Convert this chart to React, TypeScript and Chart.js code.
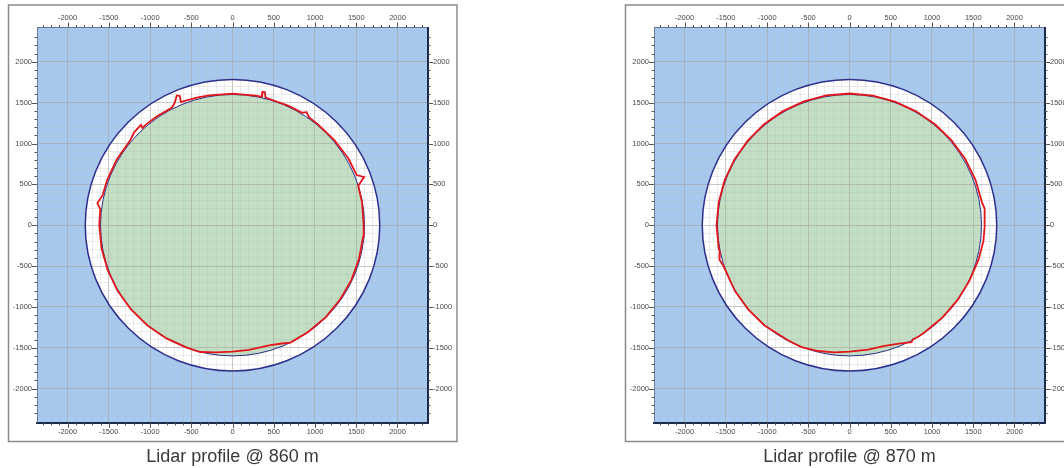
import React, { useEffect, useRef } from "react";
import { Chart, registerables } from "chart.js";

Chart.register(...registerables);

// ---- axis ranges / ticks ----
const xMin = -2370;
const xMax = 2370;
const yMin = -2420;
const yMax = 2420;
const majorStep = 500;
const minorStep = 100;
const firstTick = -2300;
const lastTick = 2300;

// ---- circles (data units) ----
const ringOuterRadius = 1785;
const innerCircleRadius = 1600;

// ---- titles ----
const panelTitles = ["Lidar profile @ 860 m", "Lidar profile @ 870 m"];

// ---- lidar profile @ 860 m (x, y in data units, closed loop) ----
const profile860X = [
  1590, 1571, 1524, 1594, 1505, 1407, 1237, 1036, 926, 899, 844, 681, 417, 400,
  392, 366, 358, 280, 0, -280, -419, -556, -625, -640, -675, -700, -733, -928,
  -1040, -1092, -1110, -1190, -1240, -1401, -1520, -1575, -1638, -1603, -1615,
  -1588, -1513, -1393, -1230, -1030, -800, -546, -390, -200, 0, 200, 460, 600,
  703, 916, 1128, 1302, 1441, 1534, 1584, 1590,
];
const profile860Y = [
  0, 277, 481, 590, 614, 813, 1038, 1235, 1323, 1384, 1377, 1461, 1557, 1565,
  1628, 1632, 1572, 1586, 1610, 1590, 1565, 1527, 1508, 1582, 1588, 1500, 1441,
  1325, 1240, 1190, 1228, 1140, 1040, 809, 553, 364, 271, 197, 0, -280, -551,
  -804, -1032, -1228, -1386, -1501, -1552, -1556, -1548, -1527, -1468, -1448,
  -1437, -1308, -1128, -912, -672, -411, -139, 0,
];

// ---- lidar profile @ 870 m (x, y in data units, closed loop) ----
const profile870X = [
  1640, 1638, 1605, 1527, 1403, 1237, 1036, 805, 551, 280, 0, -280, -551, -806,
  -1036, -1233, -1394, -1513, -1586, -1612, -1586, -1570, -1576, -1529, -1390,
  -1228, -1030, -742, -582, -380, -182, 0, 226, 427, 600, 752, 770, 830, 915,
  1128, 1309, 1455, 1565, 1623, 1640,
];
const profile870Y = [
  0, 201, 283, 556, 810, 1038, 1235, 1394, 1513, 1586, 1612, 1588, 1515, 1396,
  1235, 1035, 805, 551, 280, 0, -280, -334, -422, -497, -803, -1030, -1227,
  -1411, -1493, -1540, -1556, -1548, -1523, -1478, -1450, -1432, -1395, -1368,
  -1307, -1128, -917, -678, -419, -199, 0,
];

// ---- styling ----
const BLUE = "#a8c9ef";
const GREEN = "#c2dfc3";
const RING = "#ffffff";
const OUTLINE = "#2c2f8c";
const RED = "#e3161b";
const GRID_MAJOR = "rgba(168,164,155,0.6)";
const GRID_MINOR = "rgba(180,180,180,0.33)";
const TICK_COLOR = "#555555";
const LABEL_COLOR = "#4a4a4a";
const FONT = "'Liberation Sans', Arial, sans-serif";

const tickValues: number[] = [];
for (let v = firstTick; v <= lastTick; v += minorStep) tickValues.push(v);

const isMajor = (v: number) => Math.round(v) % majorStep === 0;

const decorPlugin = {
  id: "lidarDecor",
  beforeDraw(chart: any) {
    const { ctx, chartArea: a, scales } = chart;
    const xs = scales.x;
    const ys = scales.y;
    ctx.save();
    ctx.fillStyle = BLUE;
    ctx.fillRect(a.left, a.top, a.right - a.left, a.bottom - a.top);
    ctx.beginPath();
    ctx.rect(a.left, a.top, a.right - a.left, a.bottom - a.top);
    ctx.clip();
    const cx = xs.getPixelForValue(0);
    const cy = ys.getPixelForValue(0);
    const path = (r: number) => {
      const rx = Math.abs(xs.getPixelForValue(r) - cx);
      const ry = Math.abs(ys.getPixelForValue(r) - cy);
      ctx.beginPath();
      ctx.ellipse(cx, cy, rx, ry, 0, 0, Math.PI * 2);
    };
    path(ringOuterRadius);
    ctx.fillStyle = RING;
    ctx.fill();
    path(innerCircleRadius);
    ctx.fillStyle = GREEN;
    ctx.fill();
    ctx.restore();
  },
  beforeDatasetsDraw(chart: any) {
    const { ctx, chartArea: a, scales } = chart;
    const xs = scales.x;
    const ys = scales.y;
    ctx.save();
    ctx.beginPath();
    ctx.rect(a.left, a.top, a.right - a.left, a.bottom - a.top);
    ctx.clip();
    const cx = xs.getPixelForValue(0);
    const cy = ys.getPixelForValue(0);
    const path = (r: number) => {
      const rx = Math.abs(xs.getPixelForValue(r) - cx);
      const ry = Math.abs(ys.getPixelForValue(r) - cy);
      ctx.beginPath();
      ctx.ellipse(cx, cy, rx, ry, 0, 0, Math.PI * 2);
    };
    ctx.strokeStyle = OUTLINE;
    ctx.lineWidth = 1.5;
    path(ringOuterRadius);
    ctx.stroke();
    ctx.lineWidth = 1;
    path(innerCircleRadius);
    ctx.stroke();
    ctx.restore();
  },
  afterDraw(chart: any) {
    const { ctx, chartArea: a, scales } = chart;
    ctx.save();
    ctx.strokeStyle = TICK_COLOR;
    ctx.lineWidth = 1;
    const drawTicks = (scale: any, side: string) => {
      for (const v of tickValues) {
        const len = isMajor(v) ? 5 : 2.5;
        const p = Math.round(scale.getPixelForValue(v)) + 0.5;
        ctx.beginPath();
        if (side === "bottom") {
          ctx.moveTo(p, a.bottom);
          ctx.lineTo(p, a.bottom + len);
        } else if (side === "top") {
          ctx.moveTo(p, a.top);
          ctx.lineTo(p, a.top - len);
        } else if (side === "left") {
          ctx.moveTo(a.left, p);
          ctx.lineTo(a.left - len, p);
        } else {
          ctx.moveTo(a.right, p);
          ctx.lineTo(a.right + len, p);
        }
        ctx.stroke();
      }
    };
    drawTicks(scales.x, "bottom");
    drawTicks(scales.x2, "top");
    drawTicks(scales.y, "left");
    drawTicks(scales.y2, "right");
    // outer panel box
    ctx.strokeStyle = "#8a8a8a";
    ctx.lineWidth = 1.5;
    ctx.strokeRect(8.5, 5, 448.5, 436.5);
    ctx.restore();
  },
};

function makeAxis(
  axis: "x" | "y",
  position: string,
  min: number,
  max: number,
  mainGrid: boolean,
  borderColor: string,
  borderWidth: number,
  size: number,
  padding: number
) {
  return {
    type: "linear",
    axis,
    position,
    min,
    max,
    afterBuildTicks: (s: any) => {
      s.ticks = tickValues.map((v) => ({ value: v }));
    },
    afterFit: (s: any) => {
      if (axis === "x") s.height = size;
      else s.width = size;
    },
    grid: {
      display: true,
      drawOnChartArea: mainGrid,
      drawTicks: true,
      tickLength: 5,
      tickColor: "rgba(0,0,0,0)",
      color: (c: any) =>
        c.tick && isMajor(c.tick.value) ? GRID_MAJOR : GRID_MINOR,
      lineWidth: (c: any) => (c.tick && isMajor(c.tick.value) ? 1 : 0.8),
    },
    border: { display: true, color: borderColor, width: borderWidth },
    ticks: {
      autoSkip: false,
      maxRotation: 0,
      minRotation: 0,
      padding,
      color: LABEL_COLOR,
      font: { family: FONT, size: 7.5 },
      callback: (v: any) => (isMajor(Number(v)) ? String(v) : ""),
    },
  };
}

function Panel({
  left,
  title,
  xs,
  ys,
}: {
  left: number;
  title: string;
  xs: number[];
  ys: number[];
}) {
  const ref = useRef<HTMLCanvasElement | null>(null);
  useEffect(() => {
    if (!ref.current) return;
    const points = xs.map((x, i) => ({ x, y: ys[i] }));
    const chart = new Chart(ref.current, {
      type: "scatter",
      data: {
        datasets: [
          {
            data: points,
            showLine: true,
            borderColor: RED,
            backgroundColor: RED,
            borderWidth: 1.8,
            pointRadius: 0,
            pointHoverRadius: 0,
            fill: false,
            tension: 0,
          } as any,
        ],
      },
      options: {
        responsive: false,
        animation: false,
        events: [],
        layout: { padding: { left: 8, right: 13, top: 5, bottom: 0 } },
        plugins: {
          legend: { display: false },
          tooltip: { enabled: false },
          title: {
            display: true,
            text: title,
            position: "bottom",
            color: "#3a3a3a",
            font: { family: FONT, size: 18, weight: "normal" },
            padding: { top: 4, bottom: 0 },
          },
        },
        scales: {
          x: makeAxis("x", "bottom", xMin, xMax, true, "#1b2a4a", 2, 19.5, 0),
          x2: makeAxis("x", "top", xMin, xMax, false, "#6a7a95", 1, 22.5, 0.5),
          y: makeAxis("y", "left", yMin, yMax, true, "#6a7a95", 1, 29, 0),
          y2: makeAxis("y", "right", yMin, yMax, false, "#1b2a4a", 2, 29, 0),
        } as any,
      },
      plugins: [decorPlugin as any],
    });
    return () => chart.destroy();
  }, [title, xs, ys]);
  return (
    <canvas
      ref={ref}
      width={470}
      height={468}
      style={{ position: "absolute", left, top: 0, width: 470, height: 468 }}
    />
  );
}

export default function App() {
  useEffect(() => {
    document.body.style.margin = "0";
  }, []);
  return (
    <div
      style={{
        position: "relative",
        width: 1064,
        height: 468,
        overflow: "hidden",
        background: "#ffffff",
      }}
    >
      <Panel left={0} title={panelTitles[0]} xs={profile860X} ys={profile860Y} />
      <Panel left={617} title={panelTitles[1]} xs={profile870X} ys={profile870Y} />
    </div>
  );
}
